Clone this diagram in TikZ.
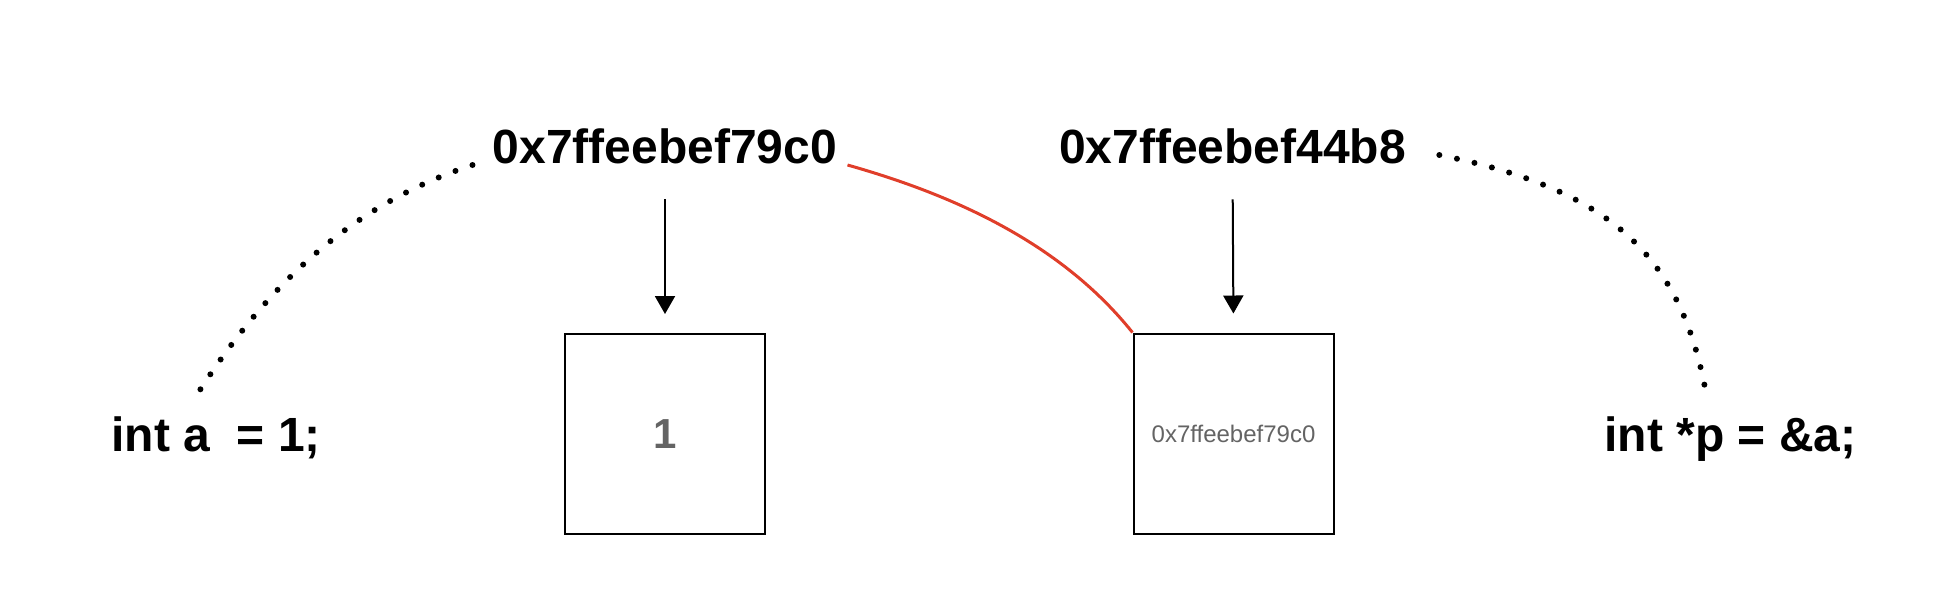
\documentclass[tikz,border=0pt]{standalone}
\usepackage{fontspec}
\setmainfont{Liberation Sans}
\usetikzlibrary{arrows.meta}
\definecolor{redline}{RGB}{224,62,42}
\definecolor{graytext}{RGB}{100,100,100}
\tikzset{
  biglabel/.style={inner sep=0pt, font=\fontsize{24}{28}\selectfont\bfseries},
  membox/.style={draw, line width=1pt, minimum size=100pt, inner sep=0pt},
  arr/.style={line width=1pt, -{Triangle[length=9pt,width=10pt]}, shorten <=17.75pt, shorten >=9.5pt},
  dotcurve/.style={line width=3pt, line cap=round, dash pattern=on 0pt off 9pt},
  redcurve/.style={line width=1.5pt, draw=redline}
}
\begin{document}
\begin{tikzpicture}[x=0.5pt, y=-0.5pt]
\useasboundingbox (0,0) rectangle (1952,602);
% labels
\node[biglabel, anchor=base] (lab1) at (665,163) {0x7ffeebef79c0};
\node[biglabel, anchor=base] (lab2) at (1232.5,163) {0x7ffeebef44b8};
\node[biglabel, anchor=base west] (inta) at (111,451) {int a\ \ = 1;};
\node[biglabel, anchor=base west] (intp) at (1604,451) {int *p = \&a;};
% boxes
\node[membox] (box1) at (665,434) {\textcolor{graytext}{\fontsize{21}{25}\selectfont\bfseries 1}};
\node[membox] (box2) at (1233.5,433.5) {\textcolor{graytext}{\fontsize{12}{14}\selectfont 0x7ffeebef79c0}};
% arrows
\draw[arr] (lab1.south) -- (box1.north);
\draw[arr] (lab2.south) -- (box2.north);
% red curve
\draw[redcurve] ([shift={(10,2)}]lab1.base east) .. controls +(110,31) and +(-70,-87.5) .. (box2.north west);
% dotted curves
\draw[dotcurve] ([shift={(-20,2)}]lab1.base west) .. controls +(-110,36) and +(80,-128) .. ([shift={(-23,-15)}]inta.north);
\draw[dotcurve] ([shift={(33,-8)}]lab2.base east) .. controls +(170,34) and +(-26,-130) .. ([shift={(-26,-31)}]intp.north);
\end{tikzpicture}
\end{document}
